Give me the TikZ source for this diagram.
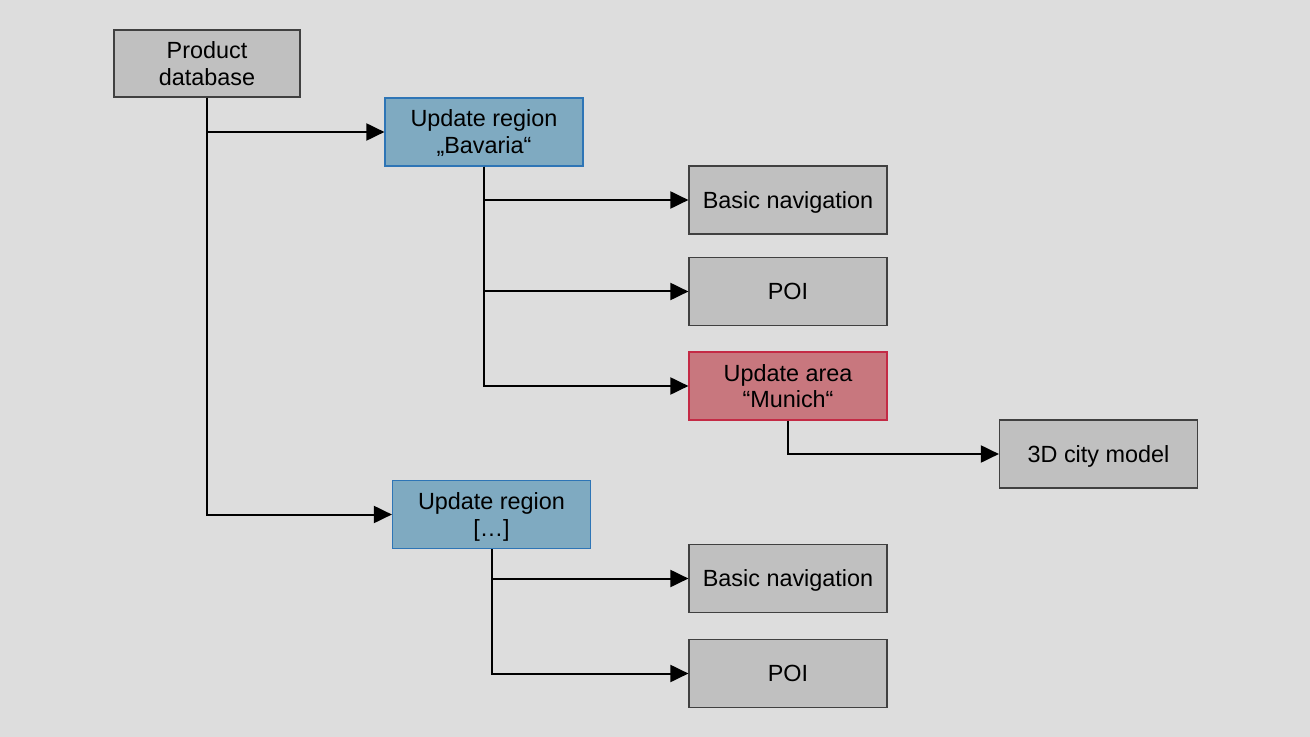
\documentclass[tikz,border=0pt]{standalone}
\usepackage{fontspec}
\setmainfont{Liberation Sans}
\usetikzlibrary{arrows.meta}
\definecolor{bggray}{HTML}{DDDDDD}
\definecolor{boxgray}{HTML}{C0C0C0}
\definecolor{boxline}{HTML}{404040}
\definecolor{regfill}{HTML}{7FAAC1}
\definecolor{regline}{HTML}{2E75B6}
\definecolor{areafill}{HTML}{C8777E}
\definecolor{arealine}{HTML}{C42A45}
\tikzset{
  item/.style={draw=boxline, fill=boxgray, line width=0.6pt, minimum width=99pt, minimum height=34pt,
    inner sep=0pt, align=center, text height=8.3pt, text depth=0pt,
    font=\fontsize{11.7}{13.3}\selectfont},
  twoline/.style={text height=21.6pt},
  region/.style={item, twoline, draw=regline, fill=regfill},
  area/.style={item, twoline, draw=arealine, fill=areafill},
  link/.style={line width=1pt, -{Triangle[length=9pt,width=8.5pt]}}
}
\begin{document}
\begin{tikzpicture}[x=0.5pt, y=-0.5pt]
    \fill[bggray] (0,0) rectangle (1310,737);
    % Root and regions
    \node[item, twoline, minimum width=93pt, minimum height=33.5pt] (pd) at (207, 63.5) {Product\\database};
    \node[region] (bav) at (484, 132) {Update region\\„Bavaria“};
    \node[region] (reg) at (491.5, 514.5) {Update region\\{[…]}};
    % Contents of region Bavaria
    \node[item] (nav1) at (788, 200) {Basic navigation};
    \node[item] (poi1) at (788, 291.5) {POI};
    \node[area] (mun) at (788, 386) {Update area\\“Munich“};
    \node[item] (city) at (1098.5, 454) {3D city model};
    % Contents of the other region
    \node[item] (nav2) at (788, 578.5) {Basic navigation};
    \node[item] (poi2) at (788, 673.5) {POI};

    % Draw all connectors
    \draw[link] (pd.south) |- (bav.west);
    \draw[link] (pd.south) |- (reg.west);
    \draw[link] (bav.south) |- (nav1.west);
    \draw[link] (bav.south) |- (poi1.west);
    \draw[link] (bav.south) |- (mun.west);
    \draw[link] (mun.south) |- (city.west); % Area to city model
    \draw[link] (reg.south) |- (nav2.west);
    \draw[link] (reg.south) |- (poi2.west);

\end{tikzpicture}
\end{document}
